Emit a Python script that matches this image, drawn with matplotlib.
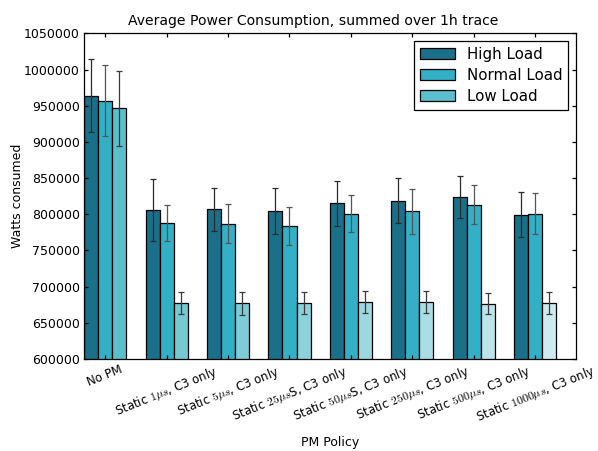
import matplotlib
matplotlib.use("Agg")
import matplotlib.pyplot as plt
import numpy as np

plt.rcParams['mathtext.fontset'] = 'cm'
plt.rcParams['font.family'] = ['DejaVu Sans']
plt.rcParams['axes.linewidth'] = 0.9

categories = ["No PM", r"Static $1\mu s$, C3 only", r"Static $5\mu s$, C3 only",
              r"Static $25\mu s$S, C3 only", r"Static $50\mu s$S, C3 only",
              r"Static $250\mu s$, C3 only", r"Static $500\mu s$, C3 only",
              r"Static $1000\mu s$, C3 only"]
high = [964000, 806000, 807000, 805000, 815000, 819000, 824000, 799500]
high_err = [50000, 43000, 29500, 32000, 31500, 31000, 29000, 31000]
normal = [957000, 787500, 787000, 783500, 801000, 804000, 813500, 801000]
normal_err = [49000, 25000, 27000, 26000, 26000, 31000, 27000, 28000]
low = [946500, 677500, 677000, 677800, 678300, 678300, 676500, 677800]
low_err = [52000, 15000, 15700, 15000, 15000, 15000, 14500, 15000]

low_colors = ['#5bbfcb', '#76c8d2', '#80ccd6', '#8dd1da', '#9dd8e0', '#abdde4', '#bce4e9', '#cdebef']

fig = plt.figure(figsize=(5.98, 4.51), dpi=100)
ax = fig.add_axes([0.1405, 0.204, 0.8225, 0.722])

ind = np.arange(len(categories))
w = 0.228
ekw = dict(capsize=2.5, elinewidth=0.9, capthick=0.9)
ax.bar(ind, high, w, align='edge', color='#1b7089', edgecolor='black', linewidth=0.9,
       yerr=high_err, error_kw=dict(ecolor='#2a2a2a', **ekw), label='High Load')
ax.bar(ind + w, normal, w, align='edge', color='#33b0c6', edgecolor='black', linewidth=0.9,
       yerr=normal_err, error_kw=dict(ecolor='#555555', **ekw), label='Normal Load')
ax.bar(ind + 2 * w, low, w, align='edge', color=low_colors, edgecolor='black', linewidth=0.9,
       yerr=low_err, error_kw=dict(ecolor='#3a3a3a', **ekw), label='Low Load')

ax.set_xlim(0, 8)
ax.set_ylim(600000, 1050000)
ax.set_yticks(np.arange(600000, 1050001, 50000))
ax.yaxis.set_major_formatter(matplotlib.ticker.FuncFormatter(lambda v, p: '%d' % v))
ax.set_xticks(ind + 1.5 * w)
ax.set_xticklabels(categories, rotation=22, ha='center', fontsize=8.5)
ax.tick_params(direction='in', top=True, right=True, length=3, width=0.9, labelsize=9, pad=3)
ax.tick_params(axis='x', labelsize=8.5)
ax.set_xlabel('PM Policy', fontsize=9, labelpad=7)
ax.set_ylabel('Watts consumed', fontsize=9, labelpad=0)
ax.set_title('Average Power Consumption, summed over 1h trace', fontsize=10.1, pad=6, x=0.465)

leg = ax.legend(loc='upper right', fontsize=10.8, fancybox=False, framealpha=1, edgecolor='black',
                handlelength=2.3, borderpad=0.4, labelspacing=0.4)
leg.get_frame().set_linewidth(0.9)
leg.legend_handles[2].set_facecolor('#5bbfcb')

fig.savefig('out.png', dpi=100)
